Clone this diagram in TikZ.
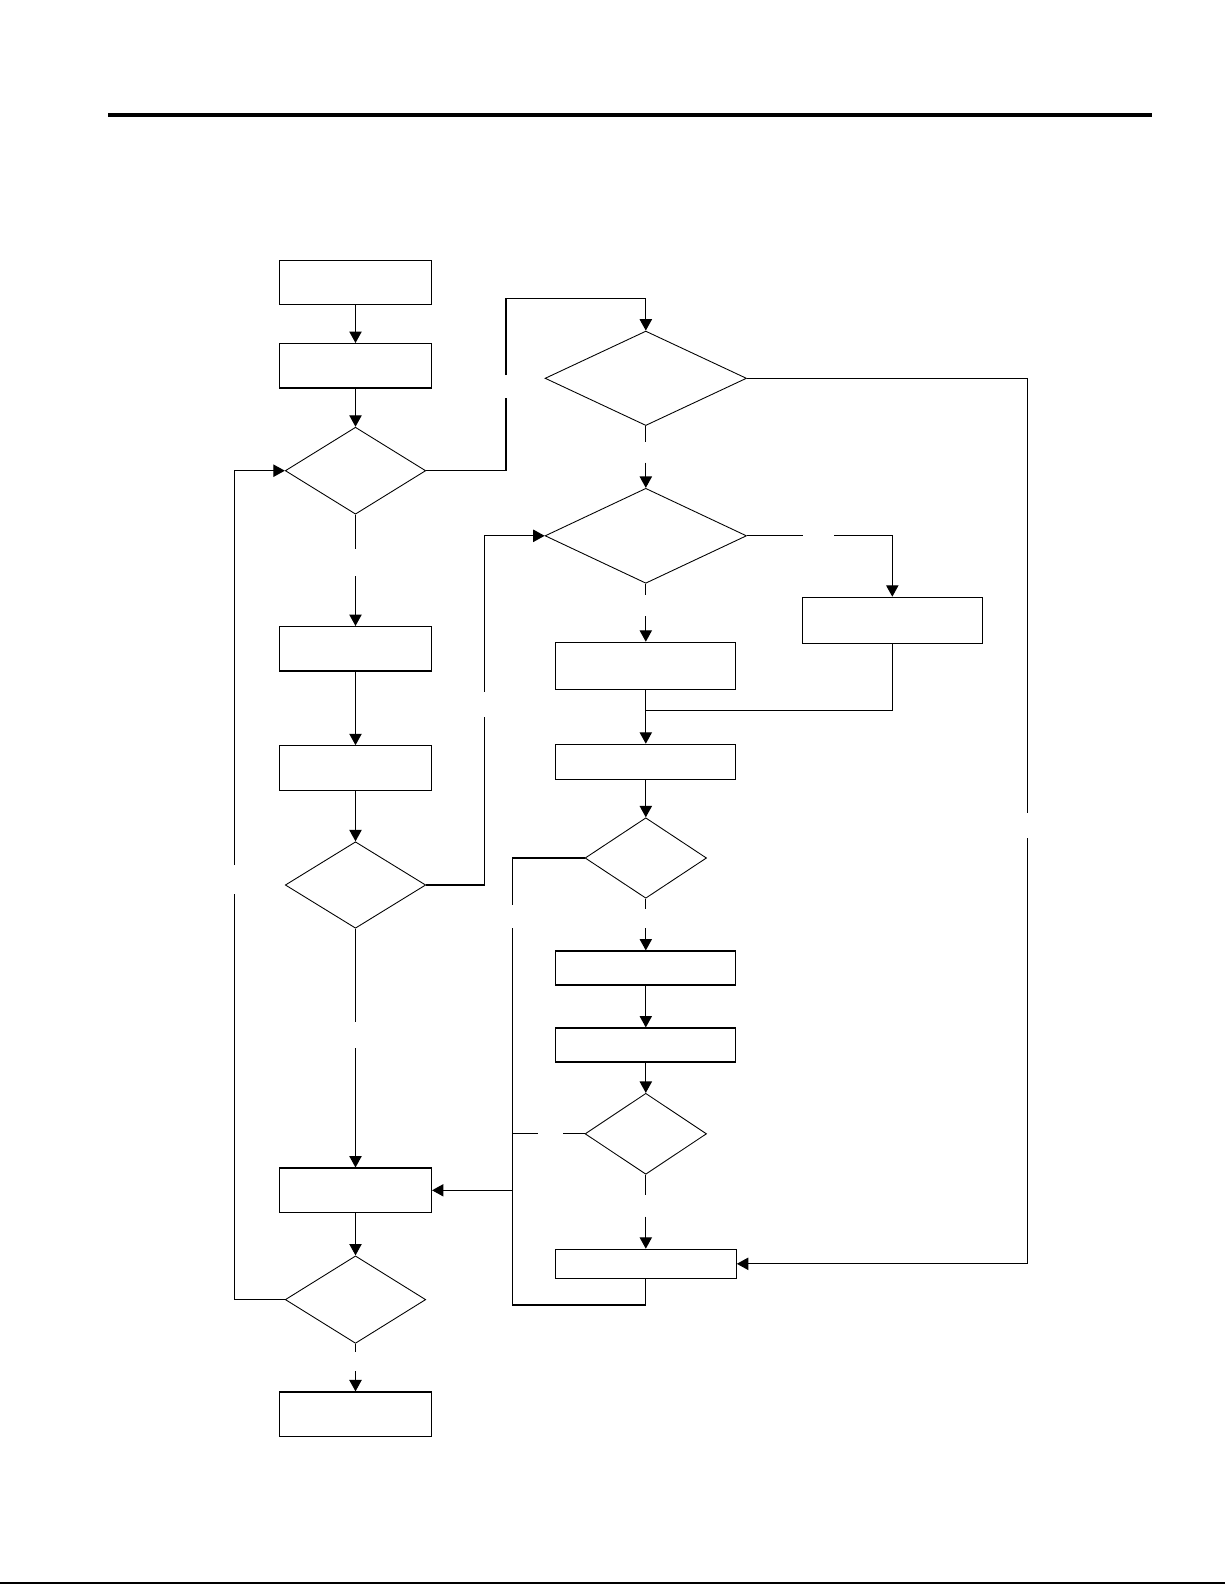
\documentclass[tikz,border=0pt]{standalone}
\usepackage{tikz}
\usetikzlibrary{shapes.geometric,arrows.meta}

\begin{document}
\begin{tikzpicture}[x=0.02cm,y=-0.02cm,line width=0.65pt,
		box/.style={draw,rectangle,inner sep=0pt,minimum width=3.04cm,minimum height=0.89cm},
		wbox/.style={draw,rectangle,inner sep=0pt,minimum width=3.6cm},
		ask/.style={draw,diamond,inner sep=0pt,line width=0.5pt},
		arr/.style={-{Triangle[length=6.5pt,width=7pt]}}]
		\useasboundingbox (0,0) rectangle (1225,1585);
		\draw[line width=2.3pt] (108,115) -- (1152,115);
		\draw[line width=1.2pt] (0,1583) -- (1225,1583);
		
		\node[box] (start) at (355.5,282.5) {};
		\node[box] (init) at (355.5,365.8) {};
		\node[ask,minimum width=2.81cm,minimum height=1.74cm] (loop) at (355.5,470.7) {};
		\node[box] (read) at (355.5,648.8) {};
		\node[box] (calc) at (355.5,768) {};
		\node[ask,minimum width=2.81cm,minimum height=1.73cm] (check) at (355.5,885) {};
		\node[box] (store) at (355.5,1190.3) {};
		\node[ask,minimum width=2.81cm,minimum height=1.75cm] (more) at (355.5,1299.6) {};
		\node[box] (stop) at (355.5,1414.2) {};
		
		\node[ask,minimum width=4.03cm,minimum height=1.89cm] (valid) at (645.8,378.3) {};
		\node[ask,minimum width=4.03cm,minimum height=1.9cm] (mode) at (645.8,535.8) {};
		\node[wbox,minimum height=0.92cm] (alt) at (892.3,620.3) {};
		\node[wbox,minimum height=0.94cm] (main) at (645.8,665.8) {};
		\node[wbox,minimum height=0.7cm] (join) at (645.8,761.8) {};
		\node[ask,minimum width=2.43cm,minimum height=1.61cm] (test) at (645.8,858) {};
		\node[wbox,minimum height=0.68cm] (stepa) at (645.8,968) {};
		\node[wbox,minimum height=0.68cm] (stepb) at (645.8,1045) {};
		\node[ask,minimum width=2.43cm,minimum height=1.62cm] (again) at (645.8,1133.8) {};
		\node[wbox,minimum width=3.62cm,minimum height=0.58cm] (fail) at (645.8,1263.8) {};
		
		\coordinate (g1) at (506,398.3);
		\coordinate (g1b) at (506,375);
		\coordinate (g2) at (645.8,442.3);
		\coordinate (g2b) at (645.8,462.7);
		\coordinate (g3) at (1027.7,813.3);
		\coordinate (g3b) at (1027.7,838.3);
		\coordinate (g4) at (803,535.8);
		\coordinate (g4b) at (834,535.8);
		\coordinate (g5) at (645.8,595);
		\coordinate (g5b) at (645.8,616);
		\coordinate (g6) at (512.7,905);
		\coordinate (g6b) at (512.7,928.3);
		\coordinate (g7) at (562.7,1133.8);
		\coordinate (g7b) at (537.7,1133.8);
		\coordinate (g8) at (645.8,909.3);
		\coordinate (g8b) at (645.8,928.3);
		\coordinate (g9) at (645.8,1195);
		\coordinate (g9b) at (645.8,1216.7);
		\coordinate (g10) at (355.5,549);
		\coordinate (g10b) at (355.5,576);
		\coordinate (g11) at (484.3,717.3);
		\coordinate (g11b) at (484.3,691.7);
		\coordinate (g12) at (355.5,1022.3);
		\coordinate (g12b) at (355.5,1048.3);
		\coordinate (g13) at (234.3,894.3);
		\coordinate (g13b) at (234.3,865);
		\coordinate (g14) at (355.5,1352.3);
		\coordinate (g14b) at (355.5,1371);
		\coordinate (merge) at (645.8,710.3);
		\coordinate (back) at (512.7,1305);
		
		\draw[arr] (start) -- (init);
		\draw[arr] (init) -- (loop);
		\draw (loop.east) -| (g1);
		\draw[arr] (g1b) -- (506,298.3) -| (valid.north);
		\draw (valid.south) -- (g2);
		\draw[arr] (g2b) -- (mode.north);
		\draw (valid.east) -| (g3);
		\draw[arr] (g3b) |- (fail.east);
		\draw (mode.east) -- (g4);
		\draw[arr] (g4b) -| (alt.north);
		\draw (mode.south) -- (g5);
		\draw[arr] (g5b) -- (main.north);
		\draw (alt.south) |- (merge);
		\draw[arr] (main.south) -- (join.north);
		\draw[arr] (join) -- (test);
		\draw (test.west) -| (g6);
		\draw (g6b) -- (back) -| (fail.south);
		\draw (again.west) -- (g7);
		\draw (g7b) -- (512.7,1133.8);
		\draw[arr] (512.7,1190.3) -- (store.east);
		\draw (test.south) -- (g8);
		\draw[arr] (g8b) -- (stepa.north);
		\draw[arr] (stepa) -- (stepb);
		\draw[arr] (stepb) -- (again);
		\draw (again.south) -- (g9);
		\draw[arr] (g9b) -- (fail.north);
		\draw (loop.south) -- (g10);
		\draw[arr] (g10b) -- (read.north);
		\draw[arr] (read) -- (calc);
		\draw[arr] (calc) -- (check);
		\draw (check.east) -| (g11);
		\draw[arr] (g11b) |- (mode.west);
		\draw (check.south) -- (g12);
		\draw[arr] (g12b) -- (store.north);
		\draw[arr] (store) -- (more);
		\draw (more.west) -| (g13);
		\draw[arr] (g13b) |- (loop.west);
		\draw (more.south) -- (g14);
		\draw[arr] (g14b) -- (stop.north);
\end{tikzpicture}
\end{document}
